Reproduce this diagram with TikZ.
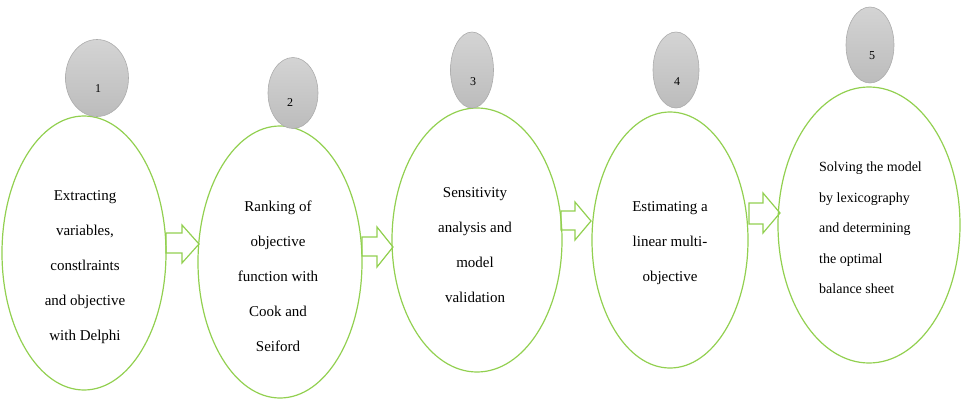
\documentclass[tikz,border=0pt]{standalone}
\usepackage{fontspec}
\setmainfont{Liberation Serif}
\usetikzlibrary{shapes.geometric}
\definecolor{lgreen}{RGB}{146,208,80}
\definecolor{ovaltop}{RGB}{212,212,212}
\definecolor{ovalbot}{RGB}{188,188,188}
\definecolor{ovaldraw}{RGB}{172,172,172}
\tikzset{
  stage/.style={ellipse, draw=lgreen, line width=1.2pt, inner sep=0pt},
  badge/.style={ellipse, draw=ovaldraw, line width=0.6pt, top color=ovaltop, bottom color=ovalbot, inner sep=0pt},
  num/.style={font=\fontsize{12}{14}\selectfont, inner sep=0pt},
  txt/.style={font=\fontsize{15}{35}\selectfont, align=center, inner sep=0pt},
  blockarrow/.style={draw=lgreen, line width=1.2pt, line join=miter}
}
\begin{document}
\begin{tikzpicture}[x=1pt,y=-1pt]
\useasboundingbox (0,0) rectangle (962,399);
% stages
\node[stage, minimum width=164pt, minimum height=274pt] (e1) at (84,253) {};
\node[stage, minimum width=164pt, minimum height=272pt] (e2) at (280,262) {};
\node[stage, minimum width=170pt, minimum height=264pt] (e3) at (477,240) {};
\node[stage, minimum width=156pt, minimum height=256pt] (e4) at (670,240) {};
\node[stage, minimum width=182pt, minimum height=276pt] (e5) at (869,225) {};
% badges
\node[badge, minimum width=63pt, minimum height=77pt] (g1) at (97,78) {};
\node[badge, minimum width=50pt, minimum height=71pt] (g2) at (293,93) {};
\node[badge, minimum width=43pt, minimum height=76pt] (g3) at (472,70) {};
\node[badge, minimum width=46pt, minimum height=76pt] (g4) at (676,70) {};
\node[badge, minimum width=48pt, minimum height=76pt] (g5) at (870,45) {};
\node[num] (n1) at (98,89) {1};
\node[num] (n2) at (290,103) {2};
\node[num] (n3) at (473,82) {3};
\node[num] (n4) at (677,82) {4};
\node[num] (n5) at (872,56) {5};
% texts
\node[txt] (t1) at (85,267) {Extracting\\variables,\\constlraints\\and objective\\with Delphi};
\node[txt] (t2) at (278,276) {Ranking of\\objective\\function with\\Cook and\\Seiford};
\node[txt] (t3) at (475,245) {Sensitivity\\analysis and\\model\\validation};
\node[txt] (t4) at (670,243) {Estimating a\\linear multi-\\objective};
\node[txt, align=left, anchor=west, font=\fontsize{14}{30.5}\selectfont] (t5) at (819,228) {Solving the model\\by lexicography\\and determining\\the optimal\\balance sheet};
% block arrows
\draw[blockarrow] (166,233) -- (182,233) -- (182,225) -- (199,244) -- (182,263) -- (182,253) -- (166,253) -- cycle;
\draw[blockarrow] (362,237) -- (377,237) -- (377,227) -- (393,247) -- (377,267) -- (377,256) -- (362,256) -- cycle;
\draw[blockarrow] (561,211) -- (575,211) -- (575,202) -- (591,221) -- (575,240) -- (575,230) -- (561,230) -- cycle;
\draw[blockarrow] (749,203) -- (763,203) -- (763,193) -- (780,213) -- (763,233) -- (763,224) -- (749,224) -- cycle;
\end{tikzpicture}
\end{document}
